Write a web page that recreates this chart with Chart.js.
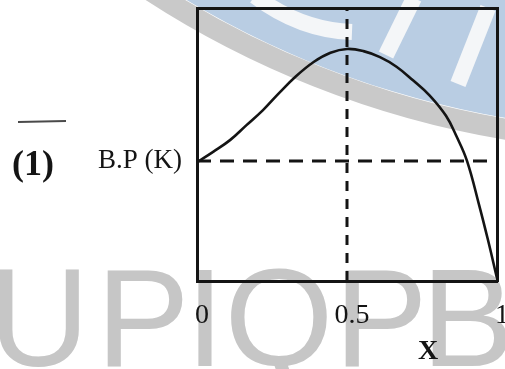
<!DOCTYPE html>
<html>
<head>
<meta charset="utf-8">
<script src="https://cdn.jsdelivr.net/npm/chart.js@4.4.1/dist/chart.umd.min.js"></script>
<style>
  html, body { margin: 0; padding: 0; background: #fff; }
  #wrap { width: 505px; height: 369px; }
</style>
</head>
<body>
<div id="wrap"><canvas id="canvas" width="505" height="369"></canvas></div>
<script>
// curve (x = mole fraction, y = relative boiling point)
const curveX = [0, 0.055, 0.11, 0.165, 0.22, 0.275, 0.33, 0.39, 0.445, 0.5, 0.555, 0.61, 0.665, 0.72, 0.775, 0.83, 0.865, 0.9, 0.94, 0.97, 1.0];
const curveY = [0.435, 0.474, 0.516, 0.571, 0.626, 0.69, 0.75, 0.803, 0.836, 0.85, 0.842, 0.82, 0.785, 0.735, 0.68, 0.605, 0.53, 0.44, 0.28, 0.15, 0.01];

// dashed guide lines
const peakX = 0.5;
const bpLevel = 0.44;

const xTicks = [0, 0.5, 1];
const xTickLabels = ["0", "0.5", "1"];
const yTickLabel = "B.P (K)";
const xTitle = "X";
const figLabel = "(1)";
const watermark = ["U", "P", "I", "Q", "P", "B"];

let curve = curveX.map(function (x, i) {
  return { x: x, y: curveY[i] };
});

const serif = "'Liberation Serif', 'DejaVu Serif', serif";
const ink = "#141414";

// scanned-page decorations: watermark, label text
const pagePlugin = {
  id: "page",
  beforeDraw(chart) {
    const ctx = chart.ctx;
    ctx.save();
    ctx.fillStyle = "#fff";
    ctx.fillRect(0, 0, chart.width, chart.height);

    // blue round logo in the top right
    ctx.beginPath();
    ctx.arc(660, -790, 921, 0, Math.PI * 2);
    ctx.fillStyle = "#b9cde3";
    ctx.fill();
    ctx.beginPath();
    ctx.arc(660, -790, 932, 0, Math.PI * 2);
    ctx.lineWidth = 21;
    ctx.strokeStyle = "#c9c9c9";
    ctx.stroke();
    ctx.strokeStyle = "#f4f6f8";
    ctx.lineWidth = 16;
    ctx.lineCap = "butt";
    ctx.beginPath();
    ctx.moveTo(255, -4);
    ctx.quadraticCurveTo(300, 30, 352, 32);
    ctx.stroke();
    ctx.beginPath();
    ctx.moveTo(386, 55);
    ctx.lineTo(414, -2);
    ctx.stroke();
    ctx.beginPath();
    ctx.moveTo(458, 84);
    ctx.lineTo(488, 8);
    ctx.stroke();

    // grey letters along the bottom
    ctx.fillStyle = "#c6c6c6";
    ctx.font = "140px 'Liberation Sans', Arial, sans-serif";
    ctx.textAlign = "center";
    ctx.textBaseline = "alphabetic";
    const centers = [39, 143, 205, 279, 381, 468];
    watermark.forEach(function (ch, i) {
      ctx.fillText(ch, centers[i], 366);
    });

    // stray mark from the scan
    ctx.strokeStyle = "#4a4a4a";
    ctx.lineWidth = 2;
    ctx.beginPath();
    ctx.moveTo(18, 122);
    ctx.lineTo(66, 121);
    ctx.stroke();
    ctx.restore();
  },
  afterDraw(chart) {
    const ctx = chart.ctx;
    ctx.save();
    ctx.fillStyle = ink;
    ctx.textAlign = "center";
    ctx.textBaseline = "middle";
    ctx.font = "bold 36px " + serif;
    ctx.fillText(figLabel, 33, 166);
    ctx.font = "bold 28px " + serif;
    ctx.fillText(xTitle, 428, 352);
    ctx.restore();
  },
};

// fixed box sizes, no label overflow padding
function fixSize(w, h) {
  return function (scale) {
    if (w !== null) scale.width = w;
    if (h !== null) scale.height = h;
    scale.paddingTop = 0;
    scale.paddingBottom = 0;
    scale.paddingLeft = 0;
    scale.paddingRight = 0;
  };
}

const ctx = document.getElementById("canvas").getContext("2d");
const myChart = new Chart(ctx, {
  type: "line",
  data: {
    datasets: [
      {
        data: curve,
        borderColor: ink,
        borderWidth: 2.6,
        pointRadius: 0,
        tension: 0.4,
      },
      {
        data: [{ x: peakX, y: 0 }, { x: peakX, y: 1 }],
        borderColor: ink,
        borderWidth: 3,
        borderDash: [10, 8],
        pointRadius: 0,
      },
      {
        data: [{ x: 0, y: bpLevel }, { x: 1, y: bpLevel }],
        borderColor: ink,
        borderWidth: 3,
        borderDash: [14, 9],
        pointRadius: 0,
      },
    ],
  },
  plugins: [pagePlugin],
  options: {
    responsive: false,
    animation: false,
    layout: { padding: 0 },
    plugins: {
      legend: { display: false },
      tooltip: { enabled: false },
    },
    scales: {
      x: {
        type: "linear",
        position: "bottom",
        min: 0,
        max: 1,
        grid: { display: false, drawTicks: false },
        border: { display: true, color: ink, width: 3 },
        afterBuildTicks: function (scale) {
          scale.ticks = xTicks.map(function (v) {
            return { value: v };
          });
        },
        afterFit: fixSize(null, 88),
        ticks: {
          color: ink,
          padding: 18,
          labelOffset: 5,
          maxRotation: 0,
          autoSkip: false,
          font: { family: serif, size: 28 },
          callback: function (value) {
            return xTickLabels[xTicks.indexOf(value)];
          },
        },
      },
      xTop: {
        type: "linear",
        position: "top",
        min: 0,
        max: 1,
        grid: { display: false, drawTicks: false },
        border: { display: true, color: ink, width: 3 },
        ticks: { display: false },
        afterFit: fixSize(null, 8),
      },
      y: {
        type: "linear",
        position: "left",
        min: 0,
        max: 1,
        grid: { display: false, drawTicks: false },
        border: { display: true, color: ink, width: 3 },
        afterBuildTicks: function (scale) {
          scale.ticks = [{ value: bpLevel }];
        },
        afterFit: fixSize(197, null),
        ticks: {
          color: ink,
          padding: 15,
          font: { family: serif, size: 27 },
          callback: function () {
            return yTickLabel;
          },
        },
      },
      yRight: {
        type: "linear",
        position: "right",
        min: 0,
        max: 1,
        grid: { display: false, drawTicks: false },
        border: { display: true, color: ink, width: 3 },
        ticks: { display: false },
        afterFit: fixSize(8, null),
      },
    },
  },
});
</script>
</body>
</html>
